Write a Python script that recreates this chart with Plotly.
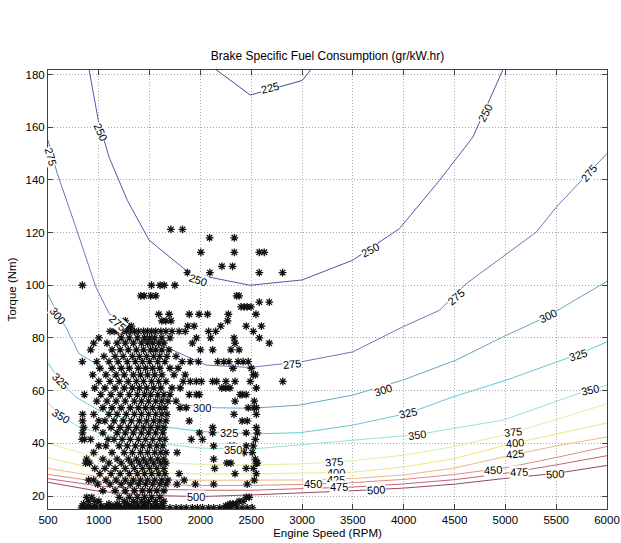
import plotly.graph_objects as go

# ---------------- data ----------------
# BSFC contour lines (engine speed RPM, torque Nm)
c225_rpm = [2130, 2490, 3000, 3100]
c225_nm = [182.5, 172.2, 177.7, 182.5]

c250_rpm = [889, 904, 995, 1101, 1281, 1495, 1857, 2086, 2487, 3000, 3498, 3958, 4352, 4680, 4976, 5013]
c250_nm = [185, 181.8, 162.6, 148.6, 132.2, 117.1, 105.7, 103.1, 100, 102, 109.5, 121.5, 139.8, 156.2, 181.8, 185]

c275_rpm = [500, 592, 773, 970, 1101, 1397, 1725, 2054, 2487, 3000, 3498, 3991, 4352, 4615, 5305, 5502, 6000]
c275_nm = [155, 142.3, 122.1, 99.4, 89.3, 80.4, 75.4, 69.7, 68.8, 71, 74.7, 84.2, 90.5, 100.6, 120.2, 129.7, 150]

c300_rpm = [500, 601, 674, 805, 970, 1100, 1500, 1850, 2152, 2500, 2973, 3498, 3991, 4517, 4976, 5419, 6000]
c300_nm = [96.5, 88.5, 84.2, 74, 70.3, 66, 58.5, 54.5, 53.5, 53.3, 54.5, 58.3, 64, 71.6, 80.4, 88.3, 101.5]

c325_rpm = [500, 620, 773, 1000, 1500, 2000, 2500, 2973, 3498, 4040, 4483, 5010, 5715, 6000]
c325_nm = [70.5, 63.5, 57.6, 52.5, 47, 44.5, 43.6, 44, 46.9, 51.4, 57.6, 64, 73.8, 78.5]

c350_rpm = [500, 630, 805, 1000, 1500, 2000, 2500, 3000, 3498, 4129, 4976, 5764, 6000]
c350_nm = [55.3, 50.3, 46.3, 44, 40.3, 38.2, 37.8, 39.5, 41.2, 43.3, 48.8, 59.5, 62.1]

low_rpm = [500, 1000, 1500, 2000, 2500, 3000, 3500, 4000, 4500, 5000, 5500, 6000]
c375_nm = [40, 34.5, 33, 32, 31.8, 32.2, 33.4, 35.5, 38.8, 43.3, 49, 55]
c400_nm = [34.5, 30, 28.9, 28.4, 28.4, 28.6, 29, 31, 34.2, 39.3, 43.6, 47.7]
c425_nm = [30.5, 27.3, 26.3, 26, 26, 26.1, 26.6, 28, 30.6, 35, 39, 42.4]
c450_nm = [28.2, 25.4, 24.3, 24, 24, 24.4, 25.1, 26.3, 28.2, 30.7, 34.6, 38.8]
c475_nm = [26.6, 23.8, 22.6, 22.2, 22.2, 22.7, 23.4, 24.6, 26.2, 28.6, 31.8, 35.3]
c500_nm = [25.2, 21.8, 20.2, 19.8, 20.4, 21.1, 22, 23, 24.5, 26.7, 28.6, 31.6]

contour_lines = [
    (225, c225_rpm, c225_nm, "#4a4a96"),
    (250, c250_rpm, c250_nm, "#5656a6"),
    (275, c275_rpm, c275_nm, "#7076b4"),
    (300, c300_rpm, c300_nm, "#66a6c4"),
    (325, c325_rpm, c325_nm, "#60ccd0"),
    (350, c350_rpm, c350_nm, "#98e2d6"),
    (375, low_rpm, c375_nm, "#dcf0a4"),
    (400, low_rpm, c400_nm, "#f0e47c"),
    (425, low_rpm, c425_nm, "#f0b882"),
    (450, low_rpm, c450_nm, "#de8a86"),
    (475, low_rpm, c475_nm, "#c0646e"),
    (500, low_rpm, c500_nm, "#944a5e"),
]

# inline contour labels: (text, rpm, torque, angle)
contour_labels = [
    ("225", 2680, 174.8, -15),
    ("250", 1015, 158, 65), ("250", 1978, 102, 18), ("250", 3670, 113.5, -28), ("250", 4800, 165.5, -62),
    ("275", 525, 149, 75), ("275", 1183, 85.5, 42), ("275", 2900, 70, -6), ("275", 4515, 95.5, -40), ("275", 5825, 142.5, -50),
    ("300", 601, 88.5, 52), ("300", 2020, 53.3, 0), ("300", 3800, 60.2, -18), ("300", 5419, 88.3, -25),
    ("325", 620, 63.5, 45), ("325", 2283, 43.8, 0), ("325", 4040, 51.4, -12), ("325", 5715, 73.6, -17),
    ("350", 631, 50.5, 32), ("350", 2316, 37.6, 0), ("350", 4129, 43.2, -8), ("350", 5837, 60.4, -12),
    ("375", 3318, 33, -5), ("400", 3334, 28.8, 0), ("425", 3334, 26.2, 0), ("450", 3104, 24.5, 0),
    ("475", 3367, 23.3, 0), ("500", 3728, 22.4, -4), ("500", 1958, 19.5, 0),
    ("375", 5074, 44.2, -6), ("400", 5091, 40, -5), ("425", 5098, 35.8, -6),
    ("450", 4877, 29.9, -3), ("475", 5134, 29.0, -2), ("500", 5491, 28.3, -3),
]

# engine operating points: (torque Nm, [engine speeds RPM])
operating_rows = [
    (121.2, [1709, 1823]),
    (118.0, [2090, 2333]),
    (112.5, [2004, 2333, 2579, 2628]),
    (107.2, [2211, 2316]),
    (104.8, [1872, 2093, 2579, 2808]),
    (100.0, [838, 1518, 1603, 1643, 1748]),
    (96.0, [1413, 1446, 1511, 1561, 2355, 2380]),
    (93.6, [2579, 2677]),
    (91.8, [2400, 2430, 2460, 2497]),
    (89.0, [1590, 1692, 1890, 1987, 2070, 2275, 2546]),
    (86.5, [1160, 1200, 1260, 1620, 1660, 1710, 2267]),
    (84.5, [1240, 1280, 1320, 1875, 1938, 2200, 2450, 2600]),
    (82.5, [1110, 1150, 1190, 1230, 1270, 1310, 1350, 1390, 1440, 1480, 1520, 1560, 1610, 1660, 1720, 1790, 1850, 2080, 2150, 2520]),
    (80.0, [1000, 1220, 1300, 1380, 1450, 1500, 1550, 1620, 1700, 1960, 2100, 2330, 2580]),
    (78.0, [950, 1080, 1180, 1260, 1340, 1420, 1480, 1530, 1590, 1640, 1920, 2340, 2677]),
    (75.5, [920, 1130, 1210, 1290, 1370, 1440, 1510, 1560, 1620, 1690, 2000, 2120, 2300, 2380]),
    (73.0, [1050, 1160, 1240, 1330, 1400, 1470, 1540, 1600, 1670, 1760]),
    (71.0, [838, 980, 1100, 1190, 1280, 1360, 1430, 1500, 1580, 1650, 1820, 1900, 1980, 2170, 2230, 2280, 2370, 2420, 2470]),
    (68.5, [1010, 1130, 1220, 1300, 1390, 1460, 1530, 1600, 1700, 1780, 2320, 2500]),
    (66.0, [940, 1070, 1170, 1250, 1340, 1410, 1480, 1550, 1620, 1740, 1850, 2520, 2540]),
    (63.5, [1000, 1110, 1200, 1290, 1370, 1440, 1520, 1590, 1660, 1830, 1900, 1960, 2010, 2120, 2160, 2250, 2340, 2490, 2810]),
    (61.0, [960, 1060, 1160, 1250, 1330, 1400, 1470, 1540, 1610, 1720, 1800, 2210, 2250, 2290, 2550]),
    (58.5, [858, 1020, 1120, 1210, 1300, 1380, 1450, 1510, 1580, 1640, 1700, 1890, 1960, 1990, 2390, 2410, 2450]),
    (56.0, [980, 1080, 1170, 1260, 1350, 1420, 1490, 1560, 1620, 1680, 1760, 2340, 2530]),
    (53.5, [1040, 1130, 1220, 1310, 1390, 1460, 1530, 1600, 1650, 1800, 1860, 2470, 2530, 2550]),
    (51.0, [840, 950, 1100, 1180, 1270, 1350, 1420, 1490, 1560, 1620, 1670, 2330, 2550]),
    (48.5, [840, 1000, 1060, 1150, 1240, 1320, 1400, 1470, 1540, 1600, 1660, 1890, 2410, 2460]),
    (46.0, [850, 970, 1120, 1210, 1290, 1370, 1440, 1510, 1580, 1640, 2120, 2550]),
    (44.0, [840, 1040, 1180, 1260, 1340, 1420, 1490, 1560, 1630, 1990, 2120, 2330, 2450, 2560]),
    (41.5, [835, 860, 920, 1090, 1150, 1230, 1310, 1390, 1460, 1530, 1600, 1650, 1910, 2020, 2540]),
    (39.0, [1000, 1070, 1200, 1280, 1360, 1430, 1500, 1570, 1630, 2130, 2290, 2330, 2450, 2520]),
    (36.5, [950, 1130, 1250, 1330, 1410, 1480, 1550, 1610, 1660, 1770, 2430, 2510]),
    (34.0, [880, 1040, 1180, 1290, 1370, 1440, 1510, 1580, 1640, 2130, 2540]),
    (32.5, [870, 910, 1100, 1220, 1320, 1400, 1470, 1540, 1610, 1660, 2260, 2300, 2550, 2560]),
    (30.5, [960, 1060, 1160, 1260, 1350, 1430, 1500, 1570, 1640, 2140, 2450, 2520]),
    (28.5, [1010, 1120, 1210, 1300, 1380, 1450, 1520, 1590, 1650, 1790, 2340, 2550]),
    (26.0, [900, 950, 1070, 1170, 1260, 1340, 1410, 1480, 1550, 1620, 1680, 1840, 2530]),
    (24.5, [990, 1110, 1220, 1310, 1390, 1460, 1530, 1600, 1660, 1770, 1950, 2130, 2460]),
    (22.0, [1040, 1160, 1260, 1350, 1430, 1500, 1570, 1640]),
    (19.5, [880, 930, 1200, 1300, 1380, 1450, 1520, 1600, 2450, 2480]),
    (18.0, [900, 960, 1000, 1250, 1340, 1420, 1490, 1560, 1640, 2380, 2420]),
    (17.0, [850, 1100, 1180, 1280, 1370, 1460, 1550, 1620, 2290, 2320, 2350]),
    (16.2, [840, 900, 960, 1020, 1080, 1140, 1200, 1260, 1320, 1380, 1440, 1500, 1560, 1620, 2250, 2270]),
    (15.5, [830, 860, 890, 920, 950, 980, 1010, 1040, 1070, 1100, 1130, 1160, 1190, 1220, 1250, 1280, 1310,
            1340, 1370, 1400, 1430, 1460, 1490, 1520, 1550, 1580, 1610, 1640, 1700, 1760, 1810, 1860, 1920,
            1970, 2020, 2080, 2130, 2190, 2240, 2300, 2360, 2410, 2460, 2510]),
]

x_ticks = [500, 1000, 1500, 2000, 2500, 3000, 3500, 4000, 4500, 5000, 5500, 6000]
y_ticks = [20, 40, 60, 80, 100, 120, 140, 160, 180]

# ---------------- figure ----------------
FONT = "Liberation Sans, Arial, Helvetica, sans-serif"
fig = go.Figure()

for level, xs, ys, col in contour_lines:
    fig.add_trace(go.Scatter(x=xs, y=ys, mode="lines", name=str(level),
                             line=dict(color=col, width=1), hoverinfo="skip"))

op_rpm, op_nm = [], []
for tq, speeds in operating_rows:
    for s in speeds:
        op_rpm.append(s)
        op_nm.append(tq)

fig.add_trace(go.Scatter(x=op_rpm, y=op_nm, mode="markers", name="operating points",
                         marker=dict(symbol="asterisk-open", size=6.5,
                                     line=dict(color="#111111", width=1.3), color="#111111")))

for txt, xr, yt, ang in contour_labels:
    fig.add_annotation(x=xr, y=yt, xref="x", yref="y", text=txt, showarrow=False,
                       textangle=ang, font=dict(family=FONT, size=11, color="black"),
                       bgcolor="white", borderpad=0, xanchor="center", yanchor="middle")

axis_common = dict(showline=True, linecolor="#404040", linewidth=1, mirror="ticks",
                   ticks="inside", ticklen=5, tickcolor="#404040",
                   showgrid=True, gridcolor="#a8a8a8", griddash="1px,2px", gridwidth=1,
                   zeroline=False, automargin=False,
                   tickfont=dict(family=FONT, size=11.5, color="black"))

fig.update_xaxes(range=[500, 6000], tickvals=x_ticks, ticktext=[str(v) for v in x_ticks],
                 title=dict(text="Engine Speed (RPM)", standoff=4,
                            font=dict(family=FONT, size=11.5, color="black")), **axis_common)
fig.update_yaxes(range=[15.07, 181.7], tickvals=y_ticks, ticktext=[str(v) for v in y_ticks],
                 title=dict(text="Torque (Nm)", standoff=6,
                            font=dict(family=FONT, size=11.5, color="black")), **axis_common)

fig.update_layout(
    width=621, height=543,
    margin=dict(l=48, r=14, t=70, b=34),
    paper_bgcolor="white", plot_bgcolor="white",
    showlegend=False,
    title=dict(text="Brake Specific Fuel Consumption (gr/kW.hr)", x=0.5, xref="paper",
               y=1 - 56 / 543, yref="container", yanchor="middle", xanchor="center",
               font=dict(family=FONT, size=12, color="black")),
)

fig.write_html("out.html", config={"displayModeBar": False},
               post_script="document.body.style.margin='0';document.body.style.overflow='hidden';")
